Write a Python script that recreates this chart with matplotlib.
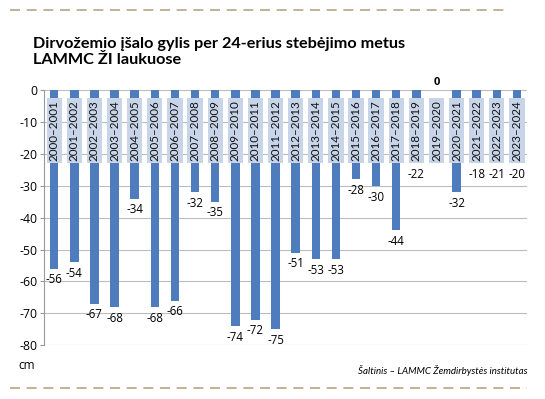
import numpy as np
import matplotlib
matplotlib.use('Agg')
import matplotlib.pyplot as plt
from matplotlib.lines import Line2D

seasons = ['2000–2001', '2001–2002', '2002–2003', '2003–2004', '2004–2005', '2005–2006',
           '2006–2007', '2007–2008', '2008–2009', '2009–2010', '2010–2011', '2011–2012',
           '2012–2013', '2013–2014', '2014–2015', '2015–2016', '2016–2017', '2017–2018',
           '2018–2019', '2019–2020', '2020–2021', '2021–2022', '2022–2023', '2023–2024']
depth = [-56, -54, -67, -68, -34, -68, -66, -32, -35, -74, -72, -75,
         -51, -53, -53, -28, -30, -44, -22, 0, -32, -18, -21, -20]
yticks = [0, -10, -20, -30, -40, -50, -60, -70, -80]

plt.rcParams['font.family'] = ['Open Sans', 'DejaVu Sans']

bar_color = '#4f7cbd'
box_color = '#c8d5e9'
box_top, box_bottom = -2.3, -23

fig = plt.figure(figsize=(5.45, 3.99), dpi=100)
ax = fig.add_axes([0.081, 0.135, 0.886, 0.639])

x = np.arange(len(seasons))
ax.bar(x, depth, width=0.42, color=bar_color, zorder=2)

# light label boxes hanging below the zero line
ax.bar(x, box_bottom - box_top, bottom=box_top, width=0.76, color=box_color, zorder=3)
for xi, lab in zip(x, seasons):
    ax.text(xi, (box_top + box_bottom) / 2, lab, rotation=90, ha='center', va='center',
            fontsize=8.4, color='#111111', zorder=4, family=['Lato', 'DejaVu Sans'])

ax.set_xlim(-0.5, len(seasons) - 0.5)
ax.set_ylim(-80, 0)
ax.set_yticks(yticks)
ax.set_yticklabels([str(v) for v in yticks], fontsize=8.8)
ax.set_xticks([])
ax.grid(axis='y', color='#bdbdbd', linewidth=0.8, zorder=0)
ax.tick_params(axis='y', length=3, color='#999999', pad=2)
for s in ['right', 'bottom', 'top']:
    ax.spines[s].set_visible(False)
ax.spines['left'].set_color('#999999')

for xi, v in zip(x, depth):
    if v == 0:
        ax.text(xi, 0.8, '0', ha='center', va='bottom', fontsize=8, weight='bold', clip_on=False)
    else:
        ax.text(xi, min(v, box_bottom) - 1.5, str(v), ha='center', va='top', fontsize=8.3, zorder=4)

fig.text(0.06, 0.87, 'Dirvožemio įšalo gylis per 24-erius stebėjimo metus\nLAMMC ŽI laukuose',
         ha='left', va='center', fontsize=11.7, weight='bold', linespacing=1.15,
         family=['Lato', 'DejaVu Sans'])
fig.text(0.034, 0.085, 'cm', fontsize=8.5, ha='left', va='center')
fig.text(0.967, 0.072, 'Šaltinis – LAMMC Žemdirbystės institutas', fontsize=7.0,
         style='italic', ha='right', va='center', family=['Lato', 'DejaVu Sans'])

dash_color = '#b7a48a'
fig.add_artist(Line2D([0.018, 0.93], [0.975, 0.975], color=dash_color, linewidth=1.2,
                      dashes=(6, 4), transform=fig.transFigure))
fig.add_artist(Line2D([0.018, 0.967], [0.027, 0.027], color=dash_color, linewidth=1.2,
                      dashes=(6, 4), transform=fig.transFigure))

fig.savefig('out.png', dpi=100, facecolor='white')
